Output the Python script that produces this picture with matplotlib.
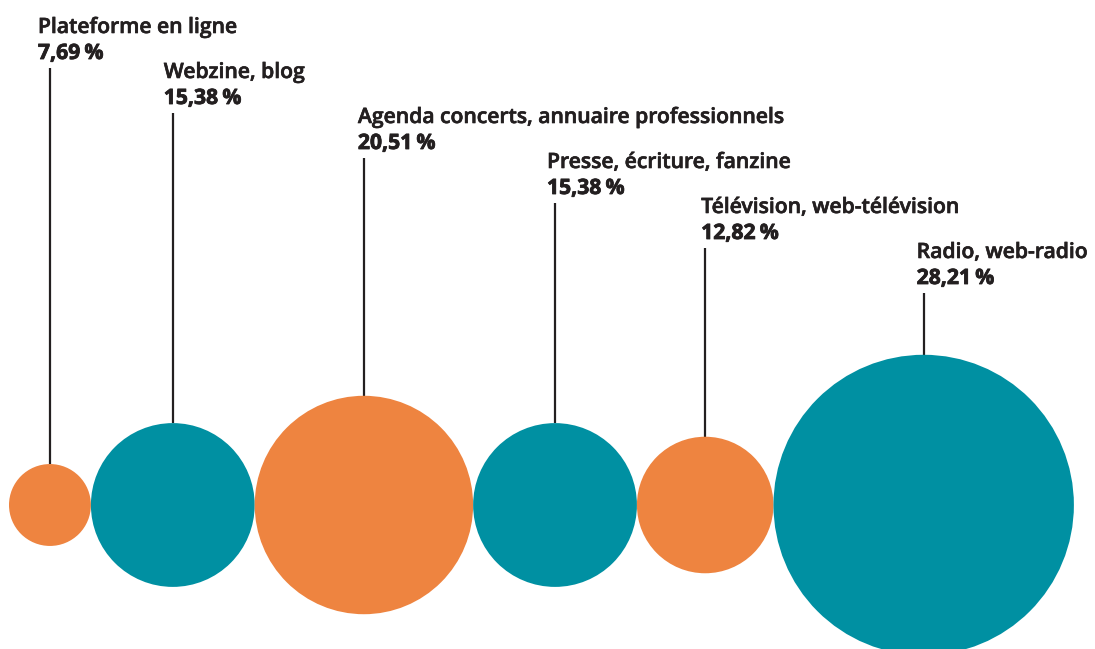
import matplotlib
matplotlib.use("Agg")
import matplotlib.pyplot as plt
import matplotlib.patheffects as pe
from matplotlib.patches import Circle

categories = [
    "Plateforme en ligne",
    "Webzine, blog",
    "Agenda concerts, annuaire professionnels",
    "Presse, écriture, fanzine",
    "Télévision, web-télévision",
    "Radio, web-radio",
]
values = [7.69, 15.38, 20.51, 15.38, 12.82, 28.21]
value_labels = ["7,69\u2009%", "15,38\u2009%", "20,51\u2009%", "15,38\u2009%", "12,82\u2009%", "28,21\u2009%"]

ORANGE = "#EE8440"
TEAL = "#0090A2"
INK = "#231F20"
colors = [ORANGE, TEAL, ORANGE, TEAL, ORANGE, TEAL]

# horizontal shift of each label block relative to its leader line (px)
label_shift = [-12, -9, -6, -8, -4, -7]

W, H = 1095, 649
fig = plt.figure(figsize=(W / 100, H / 100), dpi=100)
ax = fig.add_axes([0, 0, 1, 1])
ax.set_xlim(0, W)
ax.set_ylim(H, 0)
ax.axis("off")

# diameter is proportional to the share; circles sit side by side
px_per_pct = 10.65
x_left = 9.0
cy = 505.0
step = 45.0

font = ["Open Sans", "DejaVu Sans"]
semibold = [pe.withStroke(linewidth=0.45, foreground=INK)]
heavy = [pe.withStroke(linewidth=0.6, foreground=INK)]
x = x_left
for i, (cat, val, lab, col) in enumerate(zip(categories, values, value_labels, colors)):
    r = val * px_per_pct / 2
    cx = x + r
    x += 2 * r
    ax.add_patch(Circle((cx, cy), r, facecolor=col, edgecolor="none", zorder=2))

    name_y = 33 + step * i
    val_y = 59 + step * i
    line_top = 68 + step * i
    ax.plot([cx, cx], [line_top, cy - r], color=INK, lw=1.6, zorder=1,
            solid_capstyle="butt")
    tx = cx + label_shift[i]
    ax.text(tx, name_y, cat, family=font, weight="semibold", fontsize=15.2,
            color=INK, va="baseline", ha="left", path_effects=semibold)
    ax.text(tx, val_y, lab, family=font, weight="bold", fontsize=15.2,
            color=INK, va="baseline", ha="left", path_effects=heavy)

fig.savefig("out.png", dpi=100, facecolor="white")
